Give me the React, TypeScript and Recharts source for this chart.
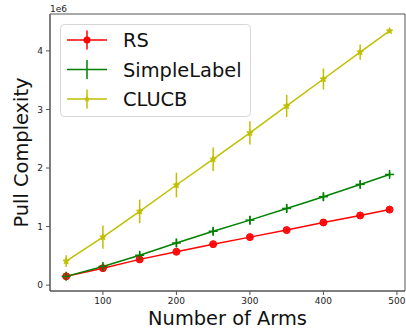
import React from 'react';
import { LineChart, Line, XAxis, YAxis, ErrorBar, ReferenceArea } from 'recharts';

const arms = [50, 100, 150, 200, 250, 300, 350, 400, 450, 490];
const rsValues = [0.15, 0.29, 0.44, 0.57, 0.70, 0.82, 0.94, 1.07, 1.19, 1.29];
const rsErrors = [0.03, 0.03, 0.03, 0.03, 0.03, 0.03, 0.03, 0.03, 0.03, 0.03];
const simpleValues = [0.15, 0.32, 0.51, 0.72, 0.92, 1.11, 1.31, 1.51, 1.72, 1.89];
const simpleErrors = [0.04, 0.05, 0.06, 0.07, 0.07, 0.07, 0.07, 0.07, 0.06, 0.04];
const clucbValues = [0.41, 0.82, 1.26, 1.71, 2.15, 2.60, 3.06, 3.52, 3.98, 4.34];
const clucbErrors = [0.10, 0.20, 0.20, 0.21, 0.20, 0.20, 0.19, 0.18, 0.13, 0.03];
const xTicks = [100, 200, 300, 400, 500];
const yTicks = [0, 1, 2, 3, 4];
const SCALE = 1e6;

const data = arms.map((a, i) => ({
  x: a,
  rs: rsValues[i] * SCALE,
  rsErr: rsErrors[i] * SCALE,
  simple: simpleValues[i] * SCALE,
  simpleErr: simpleErrors[i] * SCALE,
  clucb: clucbValues[i] * SCALE,
  clucbErr: clucbErrors[i] * SCALE,
}));

const RED = '#ff0000';
const GREEN = '#008000';
const YELLOW = '#bfbf00';
const FONT = 'DejaVu Sans, sans-serif';

function starPath(cx: number, cy: number, R: number) {
  const r = R * 0.45;
  let d = '';
  for (let i = 0; i < 10; i++) {
    const rad = i % 2 === 0 ? R : r;
    const ang = -Math.PI / 2 + (i * Math.PI) / 5;
    d += (i === 0 ? 'M' : 'L') + (cx + rad * Math.cos(ang)).toFixed(2) + ',' + (cy + rad * Math.sin(ang)).toFixed(2);
  }
  return d + 'Z';
}

const CircleDot = (p: any) => (
  <circle key={p.key} cx={p.cx} cy={p.cy} r={3.5} fill={RED} fillOpacity={0.9} stroke={RED} strokeWidth={1} />
);
const PlusDot = (p: any) => (
  <g key={p.key}>
    <line x1={p.cx - 4.5} x2={p.cx + 4.5} y1={p.cy} y2={p.cy} stroke={GREEN} strokeWidth={1.5} />
    <line x1={p.cx} x2={p.cx} y1={p.cy - 4.5} y2={p.cy + 4.5} stroke={GREEN} strokeWidth={1.5} />
  </g>
);
const StarDot = (p: any) => (
  <path key={p.key} d={starPath(p.cx, p.cy, 3.4)} fill={YELLOW} stroke={YELLOW} strokeWidth={0.8} />
);

const legendItems = [
  { name: 'RS', color: RED, marker: 'o' },
  { name: 'SimpleLabel', color: GREEN, marker: '+' },
  { name: 'CLUCB', color: YELLOW, marker: '*' },
];

export default function App() {
  return (
    <div style={{ position: 'absolute', left: 0, top: 0, width: 406, height: 329, background: '#fff' }}>
      <LineChart width={406} height={329} data={data} margin={{ top: 14, right: 1, bottom: 0, left: 0 }}>
        <ReferenceArea x1={28} x2={511} y1={-0.1 * SCALE} y2={4.63 * SCALE} fill="none" stroke="#555" strokeWidth={1} ifOverflow="visible" />
        <XAxis
          dataKey="x"
          type="number"
          domain={[28, 511]}
          ticks={xTicks}
          allowDataOverflow
          height={38}
          tickSize={4}
          tickMargin={3}
          axisLine={{ stroke: '#555' }}
          tickLine={{ stroke: '#555' }}
          tick={{ fontSize: 9, fill: '#222', fontFamily: FONT }}
          label={(props: any) => {
            const vb = props.viewBox;
            return (
              <text x={vb.x + vb.width / 2} y={325} textAnchor="middle" fontSize={19.4} fontFamily={FONT} fill="#111">
                Number of Arms
              </text>
            );
          }}
        />
        <YAxis
          type="number"
          domain={[-0.1 * SCALE, 4.63 * SCALE]}
          ticks={yTicks.map((t) => t * SCALE)}
          allowDataOverflow
          width={50}
          tickSize={4}
          tickMargin={3}
          tickFormatter={(v: number) => String(Math.round(v / SCALE))}
          axisLine={{ stroke: '#555' }}
          tickLine={{ stroke: '#555' }}
          tick={{ fontSize: 9, fill: '#222', fontFamily: FONT }}
          label={(props: any) => {
            const vb = props.viewBox;
            const cy = vb.y + vb.height / 2;
            return (
              <text x={28} y={cy} transform={`rotate(-90, 28, ${cy})`} textAnchor="middle" fontSize={19.4} fontFamily={FONT} fill="#111">
                Pull Complexity
              </text>
            );
          }}
        />
        <Line dataKey="rs" stroke={RED} strokeWidth={1.5} dot={CircleDot} activeDot={false} isAnimationActive={false}>
          <ErrorBar dataKey="rsErr" width={0} stroke={RED} strokeWidth={1.5} direction="y" />
        </Line>
        <Line dataKey="simple" stroke={GREEN} strokeWidth={1.5} dot={PlusDot} activeDot={false} isAnimationActive={false}>
          <ErrorBar dataKey="simpleErr" width={0} stroke={GREEN} strokeWidth={1.5} direction="y" />
        </Line>
        <Line dataKey="clucb" stroke={YELLOW} strokeWidth={1.5} dot={StarDot} activeDot={false} isAnimationActive={false}>
          <ErrorBar dataKey="clucbErr" width={0} stroke={YELLOW} strokeWidth={1.5} direction="y" />
        </Line>
      </LineChart>
      <svg width={406} height={329} style={{ position: 'absolute', left: 0, top: 0, pointerEvents: 'none' }}>
        <text x={50} y={12} fontSize={9} fontFamily={FONT} fill="#222">1e6</text>
        <rect x={60.5} y={24.5} width={190} height={92} rx={4} ry={4} fill="rgba(255,255,255,0.85)" stroke="#d6d6d6" strokeWidth={1} />
        {legendItems.map((it, i) => {
          const cy = 40 + i * 29.5;
          return (
            <g key={it.name}>
              <line x1={67} x2={107} y1={cy} y2={cy} stroke={it.color} strokeWidth={1.5} />
              <line x1={87} x2={87} y1={cy - 9.5} y2={cy + 9.5} stroke={it.color} strokeWidth={1.5} />
              {it.marker === 'o' && <circle cx={87} cy={cy} r={3.5} fill={it.color} />}
              {it.marker === '*' && <path d={starPath(87, cy, 3.4)} fill={it.color} />}
              <text x={123} y={cy + 7} fontSize={19.4} fontFamily={FONT} fill="#111">{it.name}</text>
            </g>
          );
        })}
      </svg>
    </div>
  );
}
